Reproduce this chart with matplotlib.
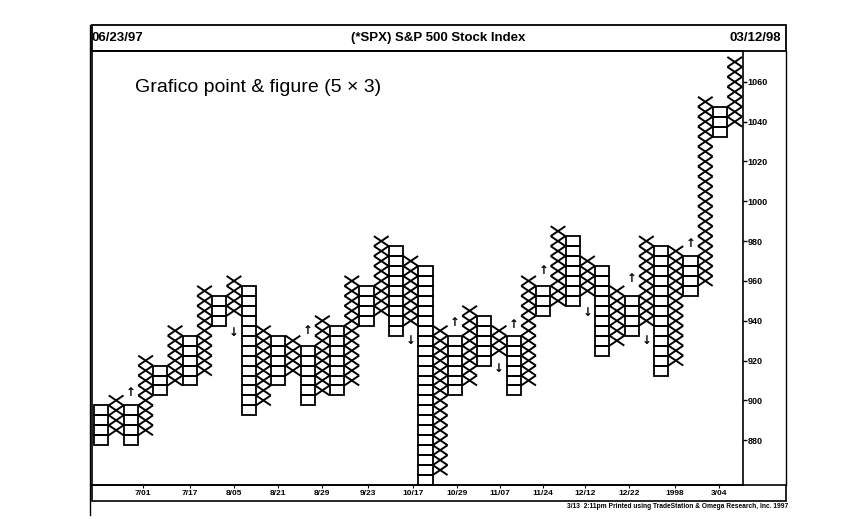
import matplotlib
matplotlib.use("Agg")
import matplotlib.pyplot as plt
from matplotlib.patches import Rectangle
from matplotlib.collections import LineCollection
from matplotlib.lines import Line2D

plt.rcParams['font.family'] = ['Liberation Sans', 'DejaVu Sans']

# ---- data ----
box_size = 5
col_kind = "OXOXOXOXOXOXOXOXOXOXOXOXOXOXOXOXOXOXOXOXOXOX"
col_low = [880, 885, 880, 885, 905, 910, 910, 915, 940, 945, 895, 900, 910, 915,
           900, 905, 905, 910, 940, 945, 935, 940, 860, 865, 905, 910, 920, 925,
           905, 910, 945, 950, 950, 955, 925, 930, 935, 940, 915, 920, 955, 960,
           1035, 1040]
col_high = [895, 900, 895, 920, 915, 935, 930, 955, 950, 960, 955, 935, 930, 930,
            925, 940, 935, 960, 955, 980, 975, 970, 965, 935, 930, 945, 940, 935,
            930, 960, 955, 985, 980, 970, 965, 955, 950, 980, 975, 975, 970, 1050,
            1045, 1070]

arrow_cols = [2, 9, 14, 21, 24, 27, 28, 30, 33, 36, 37, 40]
arrow_dirs = ["up", "down", "up", "down", "up", "down", "up", "up", "down", "up", "down", "up"]
arrow_vals = [904, 934, 935, 930, 939, 916, 938, 965, 944, 961, 930, 979]

date_cols = [2.8, 6.0, 9.0, 12.0, 15.0, 18.1, 21.15, 24.15, 27.05, 30.0, 32.85, 35.8, 38.95, 41.95]
date_labels = ["7/01", "7/17", "8/05", "8/21", "8/29", "9/23", "10/17", "10/29",
               "11/07", "11/24", "12/12", "12/22", "1998", "3/04"]
y_ticks = [880, 900, 920, 940, 960, 980, 1000, 1020, 1040, 1060]

header_left = "06/23/97"
header_center = "(*SPX) S&P 500 Stock Index"
header_right = "03/12/98"
subtitle = "Grafico point & figure (5 \u00d7 3)"
footer = "3/13  2:11pm Printed using TradeStation & Omega Research, Inc. 1997"

# ---- figure ----
W, H = 841, 519
fig = plt.figure(figsize=(W / 100, H / 100), dpi=100)
fig.patch.set_facecolor("white")

def fx(px):
    return px / W

def fy(py):
    return 1 - py / H

ax_l, ax_r, ax_t, ax_b = 92, 743, 51, 485
ax = fig.add_axes([fx(ax_l), fy(ax_b), fx(ax_r) - fx(ax_l), fy(ax_t) - fy(ax_b)])
ax.set_xlim(-0.64, 43.56)
ax.set_ylim(857.5, 1075.5)

lw = 1.4
segs = []
for i, (k, lo, hi) in enumerate(zip(col_kind, col_low, col_high)):
    v = lo
    while v <= hi:
        if k == "O":
            ax.add_patch(Rectangle((i - 0.48, v - box_size / 2), 0.96, box_size,
                                   fill=False, edgecolor="black", linewidth=1.3))
        else:
            hw = 0.5
            segs.append([(i - hw, v - box_size / 2), (i + hw, v + box_size / 2)])
            segs.append([(i - hw, v + box_size / 2), (i + hw, v - box_size / 2)])
        v += box_size
ax.add_collection(LineCollection(segs, colors="black", linewidths=lw))

for c, d, v in zip(arrow_cols, arrow_dirs, arrow_vals):
    ax.text(c, v, "\u2191" if d == "up" else "\u2193", ha="center", va="center",
            fontsize=8.5, fontweight="bold", family="DejaVu Sans", color="black")

for s in ax.spines.values():
    s.set_linewidth(1.2)
    s.set_color("black")

ax.yaxis.tick_right()
ax.set_yticks(y_ticks)
ax.set_yticklabels([str(t) for t in y_ticks])
ax.tick_params(axis="y", direction="out", length=3, width=1, pad=0.5,
               labelsize=6.5, labelcolor="black")
for lab in ax.get_yticklabels():
    lab.set_fontweight("bold")

ax.set_xticks(date_cols)
ax.set_xticklabels(date_labels)
ax.tick_params(axis="x", direction="out", length=2, width=0.8, pad=1.5,
               labelsize=6)
for lab in ax.get_xticklabels():
    lab.set_fontweight("bold")

# header box
fig.add_artist(Rectangle((fx(92), fy(51)), fx(786) - fx(92), fy(25) - fy(51),
                         transform=fig.transFigure, fill=False,
                         edgecolor="black", linewidth=1.3))
fig.text(fx(92), fy(38), header_left, ha="left", va="center", fontsize=9.5,
         fontweight="bold")
fig.text(fx(438), fy(38), header_center, ha="center", va="center", fontsize=9.5,
         fontweight="bold")
fig.text(fx(781), fy(38), header_right, ha="right", va="center", fontsize=9.5,
         fontweight="bold")

# date strip
fig.add_artist(Rectangle((fx(92), fy(501)), fx(786) - fx(92), fy(485) - fy(501),
                         transform=fig.transFigure, fill=False,
                         edgecolor="black", linewidth=1.2))
# outer right frame line
fig.add_artist(Line2D([fx(786), fx(786)], [fy(51), fy(485)],
                      transform=fig.transFigure, color="black", linewidth=1.0))
# left long frame line
fig.add_artist(Line2D([fx(90), fx(90)], [fy(25), fy(515)],
                      transform=fig.transFigure, color="black", linewidth=1.0))

fig.text(fx(135), fy(87), subtitle, ha="left", va="center", fontsize=14)
fig.text(fx(788), fy(506), footer, ha="right", va="center", fontsize=4.8,
         fontweight="bold")

fig.savefig("out.png", dpi=100, facecolor="white")
